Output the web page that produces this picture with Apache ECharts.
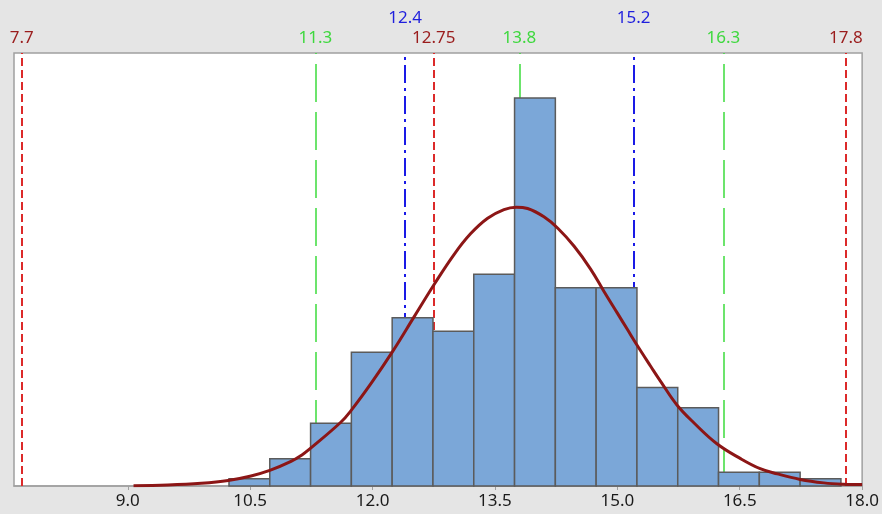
<!DOCTYPE html>
<html>
<head>
<meta charset="utf-8">
<script src="https://cdn.jsdelivr.net/npm/echarts@6/dist/echarts.min.js"></script>
<style>
html,body{margin:0;padding:0;background:#e5e5e5;}
#chart{width:882px;height:514px;}
</style>
</head>
<body>
<div id="chart"></div>
<script>
// ---- data ----
const xTicks = [9.0, 10.5, 12.0, 13.5, 15.0, 16.5, 18.0];
const binWidth = 0.5;
const binStarts = [10.24, 10.74, 11.24, 11.74, 12.24, 12.74, 13.24, 13.74, 14.24, 14.74, 15.24, 15.74, 16.24, 16.74, 17.24];
const binCounts = [2.1, 7.9, 18.1, 38.6, 48.6, 44.7, 61.1, 112, 57.2, 57.2, 28.4, 22.6, 4.0, 4.0, 2.1];
const curveX = [9.07, 9.49, 9.90, 10.23, 10.51, 10.74, 11.00, 11.13, 11.23, 11.61, 11.74, 11.99, 12.25, 12.51, 12.76, 13.00, 13.20, 13.41, 13.61, 13.76, 13.90, 14.10, 14.27, 14.47, 14.67, 14.84, 15.00, 15.12, 15.24, 15.41, 15.53, 15.73, 15.94, 16.22, 16.51, 16.75, 16.96, 17.24, 17.53, 17.77, 18.00];
const curveY = [0.1, 0.3, 0.8, 1.6, 2.9, 4.5, 7.1, 8.9, 10.7, 18.4, 21.9, 29.9, 39.0, 48.9, 58.4, 66.9, 72.8, 77.3, 79.8, 80.5, 80.1, 77.7, 74.4, 69.2, 62.7, 56.0, 49.9, 45.3, 40.7, 34.5, 30.2, 23.4, 18.2, 12.2, 7.9, 5.0, 3.5, 1.9, 0.9, 0.5, 0.4];
const redLines = [7.7, 12.75, 17.8];
const greenLines = [11.3, 13.8, 16.3];
const blueLines = [12.4, 15.2];
const redLabels = ['7.7', '12.75', '17.8'];
const greenLabels = ['11.3', '13.8', '16.3'];
const blueLabels = ['12.4', '15.2'];

// ---- styles ----
const FONT = 'Noto Sans';
const markData = [];
redLines.forEach((v, i) => markData.push({
  xAxis: v,
  lineStyle: {color: '#dc2a2a', type: [8, 4], width: 2},
  label: {formatter: redLabels[i], color: '#9a1c1c', distance: 6}
}));
greenLines.forEach((v, i) => markData.push({
  xAxis: v,
  lineStyle: {color: '#3ddc3d', type: [38, 10], width: 1.5},
  label: {formatter: greenLabels[i], color: '#3ed83e', distance: 6}
}));
blueLines.forEach((v, i) => markData.push({
  xAxis: v,
  lineStyle: {color: '#1a1ae6', type: [18, 5, 3, 5], width: 2},
  label: {formatter: blueLabels[i], color: '#1f1fdd', distance: 26}
}));

const chart = echarts.init(document.getElementById('chart'), null, {renderer: 'canvas'});
chart.setOption({
  animation: false,
  backgroundColor: '#e5e5e5',
  grid: {left: 14, right: 17, top: 53, bottom: 28, show: true, backgroundColor: '#ffffff', borderColor: '#a0a0a0', borderWidth: 1.5},
  xAxis: {
    type: 'value', min: 7.605, max: 18.0,
    axisLine: {show: true, lineStyle: {color: '#a0a0a0', width: 1.5}},
    axisTick: {show: true, customValues: xTicks, length: 4, lineStyle: {color: '#a0a0a0'}},
    axisLabel: {customValues: xTicks, formatter: v => v.toFixed(1), color: '#1a1a1a', fontSize: 17, fontFamily: FONT, margin: 7},
    splitLine: {show: false}
  },
  yAxis: {type: 'value', min: 0, max: 125, show: false, splitLine: {show: false}},
  series: [
    {
      type: 'custom',
      z: 2,
      data: binStarts.map((s, i) => [s, binCounts[i]]),
      encode: {x: 0, y: 1},
      renderItem: function (params, api) {
        const x0 = api.value(0), h = api.value(1);
        const p0 = api.coord([x0, h]);
        const p1 = api.coord([x0 + binWidth, 0]);
        return {
          type: 'rect',
          shape: {x: p0[0], y: p0[1], width: p1[0] - p0[0], height: p1[1] - p0[1]},
          style: {fill: '#7ba7d8', stroke: '#5b5b5b', lineWidth: 1.5}
        };
      }
    },
    {
      type: 'line',
      z: 3,
      smooth: 0.4,
      showSymbol: false,
      data: curveX.map((x, i) => [x, curveY[i]]),
      lineStyle: {color: '#8c1616', width: 3},
      markLine: {
        z: 1,
        silent: true,
        symbol: 'none',
        label: {show: true, position: 'end', fontSize: 17, fontFamily: FONT},
        data: markData
      }
    }
  ]
});
</script>
</body>
</html>
